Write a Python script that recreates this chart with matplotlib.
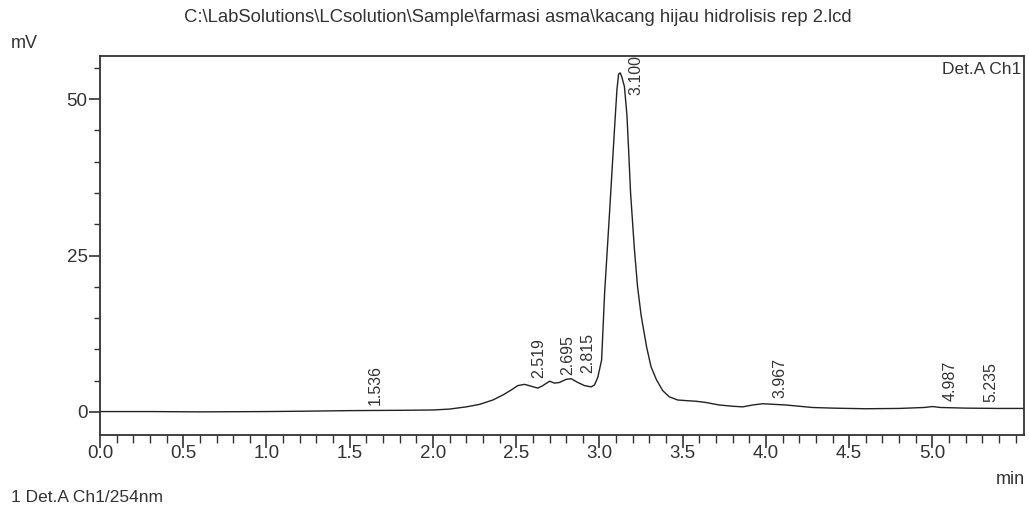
import matplotlib
matplotlib.use('Agg')
import matplotlib.pyplot as plt
from matplotlib.ticker import MultipleLocator

# chromatogram trace (min, mV)
time_min = [0.00, 0.30, 0.60, 1.00, 1.20, 1.50, 1.80, 2.00, 2.10, 2.20,
            2.28, 2.36, 2.42, 2.47, 2.51, 2.55, 2.59, 2.63, 2.66, 2.70,
            2.73, 2.76, 2.80, 2.83, 2.87, 2.91, 2.95, 2.97, 2.99, 3.013,
            3.031, 3.061, 3.091, 3.105, 3.115, 3.125, 3.135, 3.150, 3.165, 3.175,
            3.187, 3.21, 3.229, 3.25, 3.283, 3.31, 3.343, 3.38, 3.42, 3.47, 3.52,
            3.58, 3.64, 3.72, 3.80, 3.86, 3.92, 3.98, 4.05, 4.12, 4.20,
            4.28, 4.40, 4.60, 4.80, 4.95, 5.00, 5.05, 5.20, 5.40, 5.55]
signal_mv = [0.05, 0.05, 0.00, 0.05, 0.10, 0.20, 0.25, 0.30, 0.45, 0.80,
             1.20, 1.90, 2.70, 3.50, 4.20, 4.40, 4.10, 3.80, 4.20, 4.90,
             4.60, 4.70, 5.20, 5.30, 4.70, 4.20, 4.00, 4.30, 5.50, 8.30,
             19.0, 32.0, 45.5, 51.5, 54.0, 54.2, 53.5, 52.0, 47.5, 42.0,
             35.0, 26.0, 20.0, 15.5, 10.4, 7.2, 5.1, 3.4, 2.4, 1.9, 1.8,
             1.7, 1.5, 1.1, 0.9, 0.8, 1.1, 1.3, 1.2, 1.1, 0.9,
             0.7, 0.6, 0.5, 0.55, 0.7, 0.85, 0.7, 0.6, 0.55, 0.55]

# peak table
peak_rt = [1.536, 2.519, 2.695, 2.815, 3.100, 3.967, 4.987, 5.235]
peak_labels = ['1.536', '2.519', '2.695', '2.815', '3.100', '3.967', '4.987', '5.235']
peak_heights = [0.2, 4.4, 4.9, 5.3, 54.0, 1.3, 0.85, 0.55]

x_ticks = [0.0, 0.5, 1.0, 1.5, 2.0, 2.5, 3.0, 3.5, 4.0, 4.5, 5.0]
y_ticks = [0, 25, 50]

plt.rcParams['font.family'] = ['Liberation Sans', 'DejaVu Sans']
ink = '#333333'

fig = plt.figure(figsize=(10.29, 5.11), dpi=100)
ax = fig.add_axes([0.0972, 0.1487, 0.8979, 0.7417])

ax.plot(time_min, signal_mv, color='#222222', linewidth=1.0)
ax.set_xlim(0, 5.55)
ax.set_ylim(-3.7, 56.9)

ax.set_xticks(x_ticks)
ax.set_xticklabels(['%.1f' % t for t in x_ticks])
ax.xaxis.set_minor_locator(MultipleLocator(0.1))
ax.set_yticks(y_ticks)
ax.yaxis.set_minor_locator(MultipleLocator(5))
ax.tick_params(axis='x', which='major', length=9.4, width=1.2, color=ink,
               labelsize=13.5, labelcolor=ink, pad=-2.5)
ax.tick_params(axis='x', which='minor', length=5.8, width=1.0, color=ink)
ax.tick_params(axis='y', which='major', length=8, width=1.2, color=ink,
               labelsize=13.5, labelcolor=ink, pad=1)
ax.tick_params(axis='y', which='minor', length=4.3, width=1.0, color=ink)
for s in ax.spines.values():
    s.set_color(ink)
    s.set_linewidth(1.3)

# retention time labels, rotated like the LCsolution printout
for rt, lab, h in zip(peak_rt, peak_labels, peak_heights):
    if h > 45:
        ax.annotate(lab, xy=(rt, 50.6), xytext=(12, 0), textcoords='offset pixels',
                    rotation=90, ha='left', va='bottom', fontsize=11.5, color=ink)
    else:
        ax.annotate(lab, xy=(rt, h), xytext=(12, 6), textcoords='offset pixels',
                    rotation=90, ha='left', va='bottom', fontsize=11.5, color=ink)

ax.text(0.997, 0.985, 'Det.A Ch1', transform=ax.transAxes, ha='right', va='top',
        fontsize=12.5, color=ink)

fig.text(0.503, 0.966, r'C:\LabSolutions\LCsolution\Sample\farmasi asma\kacang hijau hidrolisis rep 2.lcd',
         ha='center', va='center', fontsize=13.3, color=ink)
fig.text(0.024, 0.914, 'mV', ha='center', va='center', fontsize=13, color=ink)
fig.text(0.996, 0.061, 'min', ha='right', va='center', fontsize=13, color=ink)
fig.text(0.011, 0.027, '1 Det.A Ch1/254nm', ha='left', va='center', fontsize=12.5, color=ink)

fig.savefig('out.png', dpi=100)
